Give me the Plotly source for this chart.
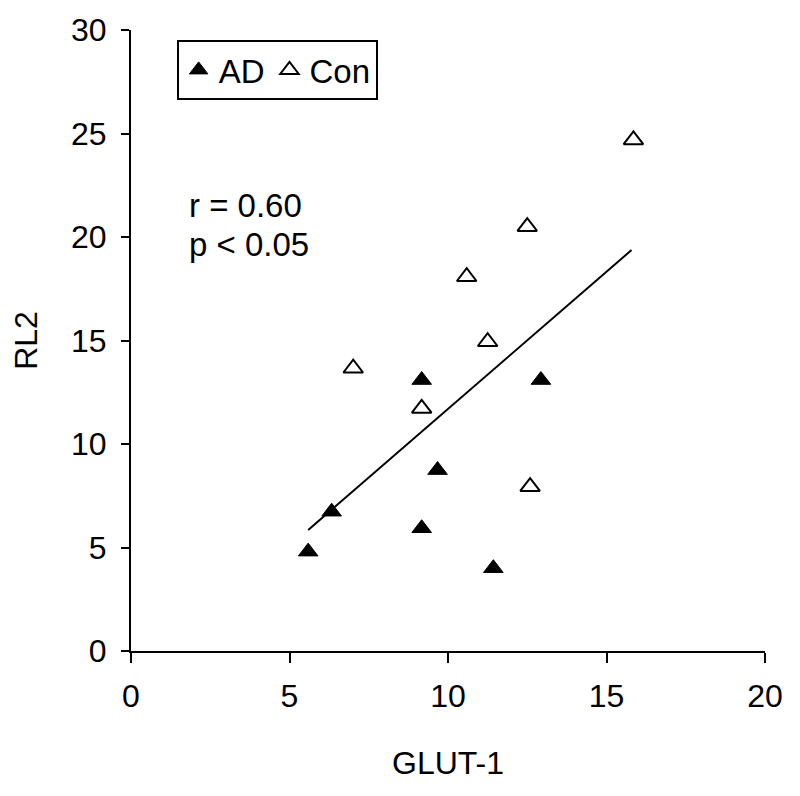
import plotly.graph_objects as go

# AD group (filled triangles)
ad_x = [5.59, 6.33, 9.17, 9.17, 9.67, 11.43, 12.93]
ad_y = [4.80, 6.73, 13.09, 5.93, 8.74, 4.00, 13.09]

# Control group (open triangles)
con_x = [7.01, 9.17, 10.59, 11.25, 12.50, 12.59, 15.85]
con_y = [13.66, 11.72, 18.08, 14.94, 20.50, 7.94, 24.69]

# Regression line end points
fit_x = [5.59, 15.79]
fit_y = [5.85, 19.37]

x_ticks = [0, 5, 10, 15, 20]
y_ticks = [0, 5, 10, 15, 20, 25, 30]

FONT = "Liberation Sans, Arial, sans-serif"

fig = go.Figure()
fig.add_trace(go.Scatter(x=fit_x, y=fit_y, mode="lines",
                         line=dict(color="black", width=2), showlegend=False))
fig.add_trace(go.Scatter(x=ad_x, y=ad_y, mode="markers", name="AD",
                         marker=dict(symbol="triangle-up", size=17, color="black",
                                     line=dict(color="black", width=1))))
fig.add_trace(go.Scatter(x=con_x, y=con_y, mode="markers", name="Con",
                         marker=dict(symbol="triangle-up", size=17, color="white",
                                     line=dict(color="black", width=2))))

fig.add_annotation(text="r = 0.60", x=0.088, y=0.718, xref="paper", yref="paper",
                   xanchor="left", yanchor="middle", showarrow=False,
                   font=dict(family=FONT, size=33, color="black"))
fig.add_annotation(text="p < 0.05", x=0.088, y=0.654, xref="paper", yref="paper",
                   xanchor="left", yanchor="middle", showarrow=False,
                   font=dict(family=FONT, size=33, color="black"))

fig.update_layout(
    width=800, height=796,
    margin=dict(l=123, r=43, t=22, b=153, autoexpand=False),
    plot_bgcolor="white", paper_bgcolor="white",
    font=dict(family=FONT, size=32, color="black"),
    showlegend=True,
    legend=dict(orientation="h", x=0.072, y=0.984, xanchor="left", yanchor="top",
                bordercolor="black", borderwidth=2, bgcolor="white",
                font=dict(family=FONT, size=33, color="black"),
                itemwidth=30, tracegroupgap=0),
    xaxis=dict(range=[0, 20], tickvals=x_ticks, showgrid=False, zeroline=False,
               showline=True, linecolor="black", linewidth=2, automargin=False,
               ticks="outside", ticklen=10, tickwidth=2, tickcolor="black",
               ticklabelstandoff=6,
               title=dict(text="GLUT-1", standoff=38,
                          font=dict(family=FONT, size=32))),
    yaxis=dict(range=[0, 30], tickvals=y_ticks, showgrid=False, zeroline=False,
               showline=True, linecolor="black", linewidth=2, automargin=False,
               ticks="outside", ticklen=8, tickwidth=2, tickcolor="black",
               ticklabelstandoff=8,
               title=dict(text="RL2", standoff=26,
                          font=dict(family=FONT, size=32))),
)

fig.write_html("out.html")
